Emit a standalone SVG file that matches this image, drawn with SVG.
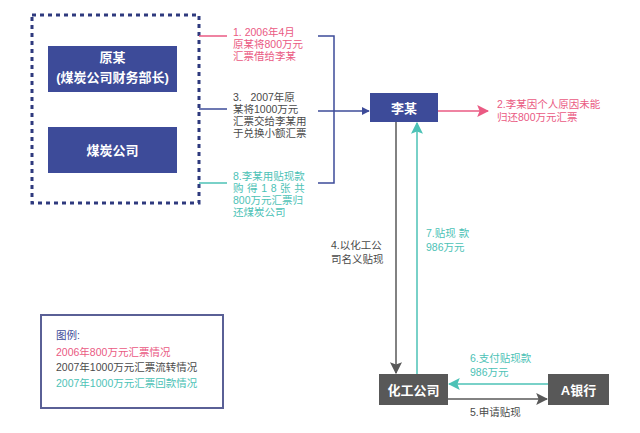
<svg xmlns="http://www.w3.org/2000/svg" width="640" height="433" viewBox="0 0 640 433">
<style>
.t{font-family:"Liberation Sans","Noto Sans CJK SC",sans-serif;font-size:10.5px}
.pk{fill:#ea5a83}.gy{fill:#4a4a4a}.tl{fill:#4cc2b6}.nv{fill:#3d4b99}
.nb{fill:#3d4b99}.gb{fill:#585858}
.w{fill:#fff;font-family:"Liberation Sans","Noto Sans CJK SC",sans-serif;font-weight:bold;text-anchor:middle;font-size:13px}
.ln{fill:none;stroke-width:1.5}
</style>
<defs>
<marker id="aN" viewBox="0 0 10 10" refX="9" refY="5" markerWidth="8" markerHeight="8" markerUnits="userSpaceOnUse" orient="auto"><path d="M0,0L10,5L0,10z" fill="#3d4b99"/></marker>
<marker id="aP" viewBox="0 0 10 10" refX="9" refY="5" markerWidth="12" markerHeight="12" markerUnits="userSpaceOnUse" orient="auto"><path d="M0,0L10,5L0,10L2,5z" fill="#ea5a83"/></marker>
<marker id="aG" viewBox="0 0 10 10" refX="9" refY="5" markerWidth="12" markerHeight="12" markerUnits="userSpaceOnUse" orient="auto"><path d="M0,0L10,5L0,10L2,5z" fill="#585858"/></marker>
<marker id="aT" viewBox="0 0 10 10" refX="9" refY="5" markerWidth="12" markerHeight="12" markerUnits="userSpaceOnUse" orient="auto"><path d="M0,0L10,5L0,10L2,5z" fill="#4cc2b6"/></marker>
</defs>
<rect width="640" height="433" fill="#fff"/>

<g id="group-coal">
<rect x="32" y="15" width="167" height="188" fill="none" stroke="#2f3a7e" stroke-width="3" stroke-dasharray="4 4"/>
</g>
<g id="node-yuan">
<rect class="nb" x="48" y="46" width="129" height="46"/>
<text class="w" x="112.5" y="61.5">原某</text>
<text class="w" x="112.5" y="82">(煤炭公司财务部长)</text>
</g>
<g id="node-coal">
<rect class="nb" x="48" y="127" width="129" height="46"/>
<text class="w" x="112.5" y="154.5">煤炭公司</text>
</g>
<g id="node-li">
<rect class="nb" x="370" y="93" width="68" height="29"/>
<text class="w" x="404" y="112.5" font-size="13.5">李某</text>
</g>
<g id="node-chem">
<rect class="gb" x="379" y="374" width="69" height="31"/>
<text class="w" x="413.5" y="394.5" font-size="14.5">化工公司</text>
</g>
<g id="node-bank">
<rect class="gb" x="548" y="374" width="61" height="31"/>
<text class="w" x="578.5" y="394.5" font-size="14.5">A银行</text>
</g>

<g id="connectors">
<line class="ln" x1="199" y1="36" x2="227" y2="36" stroke="#ea5a83"/>
<line class="ln" x1="199" y1="109" x2="227" y2="109" stroke="#3d4b99"/>
<line class="ln" x1="199" y1="183" x2="227" y2="183" stroke="#4cc2b6"/>
<path class="ln" d="M318,36H334V183H318" stroke="#3d4b99"/>
<path class="ln" d="M318,111H369" stroke="#3d4b99" marker-end="url(#aN)"/>
<path class="ln" d="M438,111H488" stroke="#ea5a83" stroke-width="2" marker-end="url(#aP)"/>
<path class="ln" d="M396,122V373" stroke="#585858" stroke-width="2" marker-end="url(#aG)"/>
<path class="ln" d="M417,374V123" stroke="#4cc2b6" stroke-width="2" marker-end="url(#aT)"/>
<path class="ln" d="M548,384H449" stroke="#4cc2b6" stroke-width="2" marker-end="url(#aT)"/>
<path class="ln" d="M448,399H547" stroke="#585858" stroke-width="2" marker-end="url(#aG)"/>
</g>

<g id="labels">
<text class="t pk" x="233" y="36">1. 2006年4月</text>
<text class="t pk" x="233" y="48">原某将800万元</text>
<text class="t pk" x="233" y="60">汇票借给李某</text>
<text class="t gy" x="233" y="101" xml:space="preserve">3.   2007年原</text>
<text class="t gy" x="233" y="113">某将1000万元</text>
<text class="t gy" x="233" y="125">汇票交给李某用</text>
<text class="t gy" x="233" y="137">于兑换小额汇票</text>
<text class="t tl" x="233" y="180">8.李某用贴现款</text>
<text class="t tl" x="233" y="192" letter-spacing="3.6">购得18张共</text>
<text class="t tl" x="233" y="204">800万元汇票归</text>
<text class="t tl" x="233" y="216">还煤炭公司</text>
<text class="t pk" x="497" y="108">2.李某因个人原因未能</text>
<text class="t pk" x="497" y="121">归还800万元汇票</text>
<text class="t gy" x="331" y="249">4.以化工公</text>
<text class="t gy" x="331" y="263">司名义贴现</text>
<text class="t tl" x="426" y="237">7.贴现 款</text>
<text class="t tl" x="426" y="251">986万元</text>
<text class="t tl" x="470" y="362">6.支付贴现款</text>
<text class="t tl" x="470" y="376">986万元</text>
<text class="t gy" x="470" y="416">5.申请贴现</text>
</g>

<g id="legend">
<rect x="41" y="315" width="182" height="93" fill="#fff" stroke="#5a6096" stroke-width="2"/>
<text class="t nv" x="56" y="339" font-size="11">图例:</text>
<text class="t pk" x="56" y="356" font-size="11">2006年800万元汇票情况</text>
<text class="t gy" x="56" y="371" font-size="11">2007年1000万元汇票流转情况</text>
<text class="t tl" x="56" y="387" font-size="11">2007年1000万元汇票回款情况</text>
</g>
</svg>
